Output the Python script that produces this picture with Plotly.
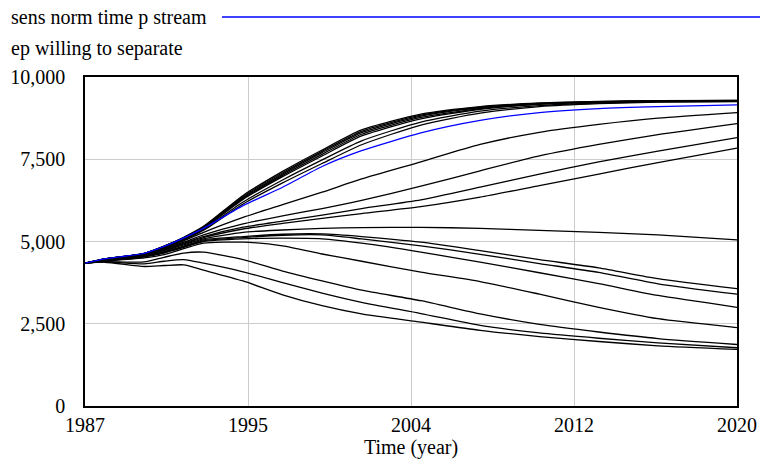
import plotly.graph_objects as go

years = [1987, 1988, 1990, 1991, 1992, 1993, 1995, 1997, 1999, 2001, 2004, 2007, 2010, 2013, 2016, 2020]

# sensitivity runs (black)
run_t1 = [4340, 4470, 4640, 4860, 5130, 5460, 6400, 7130, 7780, 8390, 8870, 9100, 9210, 9260, 9280, 9290]
run_t2 = [4340, 4470, 4640, 4855, 5120, 5445, 6370, 7090, 7740, 8350, 8840, 9080, 9200, 9250, 9275, 9285]
run_t3 = [4340, 4470, 4635, 4850, 5110, 5430, 6340, 7050, 7700, 8310, 8810, 9060, 9190, 9245, 9270, 9280]
run_t4 = [4340, 4465, 4630, 4845, 5100, 5415, 6310, 7010, 7650, 8260, 8770, 9040, 9180, 9240, 9265, 9275]
run_t5 = [4340, 4465, 4630, 4840, 5090, 5400, 6280, 6970, 7600, 8210, 8730, 9020, 9170, 9235, 9260, 9270]
run_t6 = [4340, 4465, 4625, 4830, 5070, 5370, 6200, 6870, 7480, 8060, 8630, 8960, 9130, 9210, 9245, 9260]
run_t7 = [4340, 4460, 4620, 4820, 5050, 5340, 6140, 6780, 7370, 7940, 8540, 8900, 9100, 9190, 9235, 9250]
run_u1 = [4340, 4460, 4620, 4800, 5020, 5280, 5735, 6120, 6500, 6900, 7420, 7950, 8320, 8560, 8750, 8920]
run_u2 = [4340, 4455, 4610, 4780, 4980, 5200, 5535, 5780, 6000, 6250, 6680, 7150, 7600, 7950, 8250, 8585]
run_u3 = [4340, 4450, 4600, 4760, 4950, 5150, 5435, 5620, 5800, 6000, 6263, 6650, 7050, 7420, 7750, 8160]
run_u4 = [4340, 4450, 4590, 4740, 4930, 5120, 5380, 5550, 5700, 5850, 6060, 6350, 6700, 7050, 7400, 7840]
run_l8 = [4340, 4440, 4580, 4720, 4900, 5080, 5280, 5350, 5400, 5420, 5430, 5400, 5340, 5280, 5200, 5050]
run_l7 = [4340, 4430, 4560, 4690, 4860, 5050, 5150, 5220, 5230, 5150, 4980, 4720, 4450, 4200, 3870, 3565]
run_l6 = [4340, 4420, 4550, 4670, 4840, 5020, 5120, 5190, 5200, 5080, 4870, 4610, 4330, 4060, 3715, 3400]
run_l5 = [4340, 4410, 4530, 4650, 4820, 5000, 5080, 5100, 5080, 4950, 4680, 4370, 4050, 3720, 3360, 3000]
run_l4 = [4340, 4400, 4500, 4600, 4780, 4950, 4980, 4870, 4620, 4400, 4070, 3780, 3400, 3000, 2655, 2385]
run_l3 = [4340, 4390, 4380, 4520, 4650, 4675, 4450, 4100, 3800, 3520, 3200, 2800, 2480, 2250, 2050, 1870]
run_l2 = [4340, 4380, 4320, 4400, 4450, 4340, 4080, 3750, 3430, 3150, 2810, 2450, 2220, 2060, 1920, 1770]
run_l1 = [4340, 4370, 4240, 4270, 4290, 4130, 3800, 3380, 3050, 2800, 2550, 2300, 2110, 1960, 1830, 1720]

# base run (blue)
base_run = [4340, 4470, 4640, 4850, 5110, 5400, 6090, 6650, 7280, 7760, 8300, 8680, 8920, 9040, 9100, 9150]

black_runs = [run_t1, run_t2, run_t3, run_t4, run_t5, run_t6, run_t7,
              run_u1, run_u2, run_u3, run_u4, run_l8, run_l7, run_l6,
              run_l5, run_l4, run_l3, run_l2, run_l1]

x_tickvals = [1987, 1995.25, 2003.5, 2011.75, 2020]
x_ticktext = ["1987", "1995", "2004", "2012", "2020"]
y_tickvals = [0, 2500, 5000, 7500, 10000]
y_ticktext = ["0", "2,500", "5,000", "7,500", "10,000"]

FONT = "Liberation Serif, Times New Roman, serif"
FS = 20

fig = go.Figure()
for run in black_runs:
    fig.add_trace(go.Scatter(x=years, y=run, mode="lines",
                             line=dict(color="black", width=1.3, shape="spline", smoothing=0.6),
                             showlegend=False, hoverinfo="skip"))
fig.add_trace(go.Scatter(x=years, y=base_run, mode="lines",
                         line=dict(color="#0000ff", width=1.3, shape="spline", smoothing=0.6),
                         showlegend=False))

W, H = 760, 461
L, R, T, B = 85, 23, 77, 55
pw, ph = W - L - R, H - T - B

def px(xs):
    return (xs - L) / pw

def py(ys):
    return (H - B - ys) / ph

fig.update_layout(
    width=W, height=H,
    margin=dict(l=L, r=R, t=T, b=B, autoexpand=False),
    paper_bgcolor="white", plot_bgcolor="white",
    font=dict(family=FONT, size=FS, color="black"),
    showlegend=False,
    xaxis=dict(range=[1987, 2020], tickvals=x_tickvals, ticktext=x_ticktext,
               showgrid=True, gridcolor="#cccccc", gridwidth=1,
               showline=True, linecolor="black", linewidth=1.5, mirror=True,
               ticks="", zeroline=False, ticklabelstandoff=0, automargin=False,
               tickfont=dict(family=FONT, size=FS),
               title=dict(text="Time (year)", font=dict(family=FONT, size=FS), standoff=2)),
    yaxis=dict(range=[0, 10000], tickvals=y_tickvals, ticktext=y_ticktext,
               showgrid=True, gridcolor="#cccccc", gridwidth=1,
               showline=True, linecolor="black", linewidth=1.5, mirror=True,
               ticks="", zeroline=False, ticklabelstandoff=14, automargin=False,
               tickfont=dict(family=FONT, size=FS)),
    annotations=[
        dict(text="sens norm time p stream", xref="paper", yref="paper",
             x=px(9), y=py(17), xanchor="left", yanchor="middle",
             showarrow=False, font=dict(family=FONT, size=FS)),
        dict(text="ep willing to separate", xref="paper", yref="paper",
             x=px(9), y=py(48), xanchor="left", yanchor="middle",
             showarrow=False, font=dict(family=FONT, size=FS)),
    ],
    shapes=[
        dict(type="line", xref="paper", yref="paper",
             x0=px(222), x1=px(760), y0=py(17), y1=py(17),
             line=dict(color="#0000ff", width=1.3)),
    ],
)

fig.write_html("out.html",
               config={"displayModeBar": False},
               post_script="document.body.style.margin='0';document.body.style.overflow='hidden';")
